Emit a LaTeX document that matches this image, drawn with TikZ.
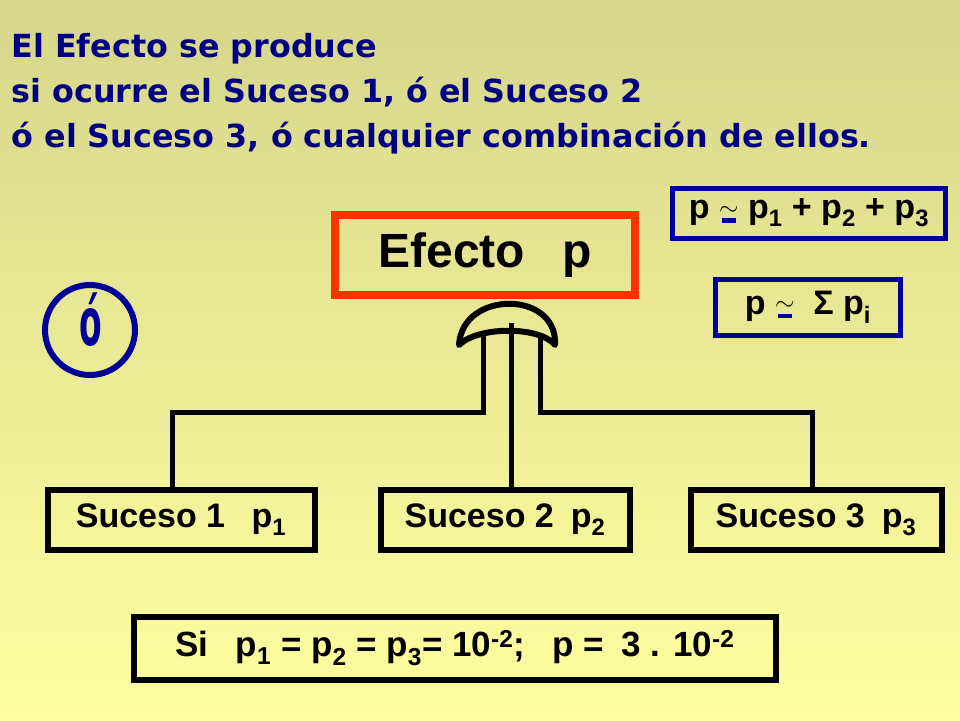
\documentclass[tikz,border=0pt]{standalone}
\usepackage{fontspec}
\setmainfont{Liberation Sans}
\newfontfamily\titlefont{DejaVu Sans}
\definecolor{navy}{RGB}{0,0,128}
\definecolor{boxblue}{RGB}{0,0,153}
\definecolor{redbox}{RGB}{255,51,0}
\definecolor{bgtop}{RGB}{214,214,140}
\definecolor{bgbot}{RGB}{255,255,160}
\newcommand{\apx}{\mbox{\ooalign{\raisebox{0.1em}{$\sim$}\cr\hidewidth\raisebox{-0.12em}{\textcolor{boxblue}{\rule{0.4em}{0.14em}}}\hidewidth\cr}}}
\begin{document}
\begin{tikzpicture}[x=1pt,y=-1pt,font=\bfseries]
\tikzstyle{suceso} = [draw=black, line width=6pt, minimum height=60pt, inner sep=0pt]
\tikzstyle{formula} = [draw=boxblue, line width=5pt, inner sep=0pt]
\tikzstyle{wire} = [draw=black, line width=5pt]

\shade[top color=bgtop, bottom color=bgbot] (0,0) rectangle (960,720);
\useasboundingbox (0,0) rectangle (960,720);

\node[anchor=north west, align=left, text=navy, font=\titlefont\bfseries\fontsize{31.8}{45}\selectfont] (title) at (8,30)
  {El Efecto se produce\\si ocurre el Suceso 1, ó el Suceso 2\\ó el Suceso 3, ó cualquier combinación de ellos.};

\node[draw=redbox, line width=8pt, minimum width=300pt, minimum height=80pt, font=\bfseries\fontsize{48}{50}\selectfont] (efecto) at (485,255) {Efecto\enspace\ p};

\node[formula, minimum width=273pt, minimum height=50pt, font=\bfseries\fontsize{34}{36}\selectfont] (f1) at (809,213) {p \apx{} p\textsubscript{1} + p\textsubscript{2} + p\textsubscript{3}};
\node[formula, minimum width=185pt, minimum height=56pt, font=\bfseries\fontsize{34}{36}\selectfont] (f2) at (808,307) {p \apx{}\ \ Σ p\textsubscript{i}};

\node[circle, draw=boxblue, line width=6pt, minimum size=90pt] (o) at (90,330) {};
\node[text=boxblue, font=\titlefont\bfseries\fontsize{66}{66}\selectfont, xscale=0.5] at (91,320) {ó};

% gate
\draw[wire, line width=6pt, line join=round] (459,345) .. controls (462,290) and (558,290) .. (555,345)
  .. controls (540,326) and (478,326) .. cycle;
\coordinate (gl) at (483,334);
\coordinate (gm) at (511,323);
\coordinate (gr) at (540,334);

\node[suceso, minimum width=267pt, font=\bfseries\fontsize{34}{36}\selectfont] (s1) at (181,520) {Suceso 1\enspace\ p\textsubscript{1}};
\node[suceso, minimum width=249pt, font=\bfseries\fontsize{34}{36}\selectfont] (s2) at (505,520) {Suceso 2\enspace p\textsubscript{2}};
\node[suceso, minimum width=251pt, font=\bfseries\fontsize{34}{36}\selectfont] (s3) at (816,520) {Suceso 3\enspace p\textsubscript{3}};

\draw[wire] (s1.north -| 172,0) |- (172,412) -| (gl);
\draw[wire] (s2.north -| gm) -- (gm);
\draw[wire] (s3.north -| 812,0) |- (812,412) -| (gr);

\node[suceso, minimum width=642pt, minimum height=63pt, font=\bfseries\fontsize{35}{36}\selectfont] (si) at (455,648)
  {Si\enspace\ p\textsubscript{1} = p\textsubscript{2} = p\textsubscript{3}= 10\textsuperscript{-2};\enspace\ p =\enspace 3 . 10\textsuperscript{-2}};
\end{tikzpicture}
\end{document}
